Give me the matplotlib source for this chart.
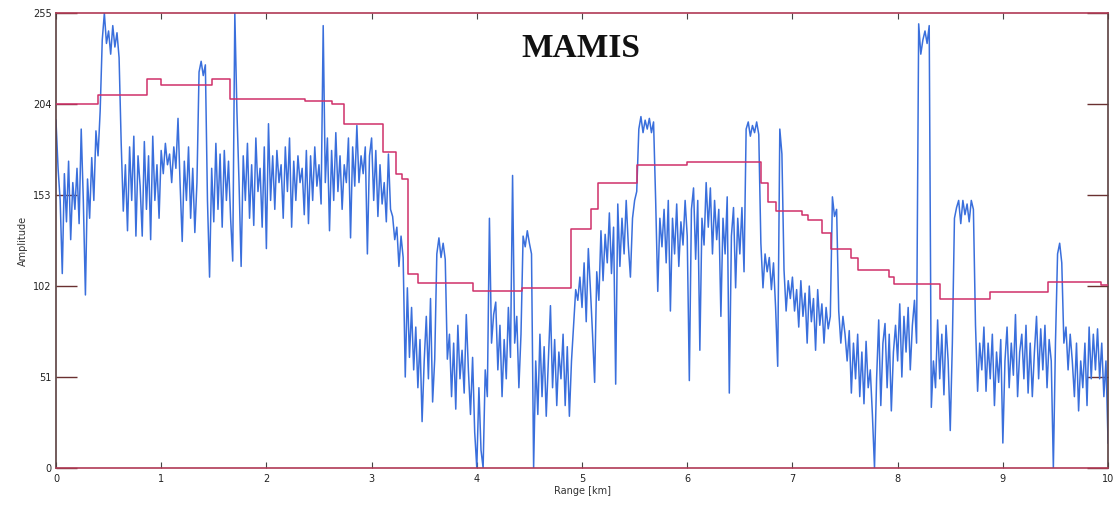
import numpy as np
import matplotlib
matplotlib.use("Agg")
import matplotlib.pyplot as plt

# Blue amplitude trace, sampled every 0.02 km from 0 to 10 km
amp_step_km = 0.02
amplitude = [
    195, 168, 150, 109, 165, 138, 172, 128, 160, 145,
    168, 137, 190, 150, 97, 162, 140, 174, 150, 189,
    175, 200, 240, 255, 238, 245, 232, 248, 236, 244,
    230, 182, 144, 170, 133, 180, 150, 186, 130, 175,
    158, 130, 183, 145, 175, 128, 186, 150, 170, 140,
    178, 165, 182, 170, 176, 160, 180, 168, 196, 159,
    127, 172, 150, 180, 140, 168, 132, 160, 222, 228,
    220, 226, 150, 107, 168, 138, 182, 145, 176, 135,
    178, 150, 172, 140, 116, 255, 200, 160, 113, 175,
    150, 182, 140, 170, 136, 185, 155, 168, 135, 180,
    123, 193, 150, 175, 145, 178, 160, 170, 140, 180,
    155, 185, 135, 172, 150, 175, 160, 168, 142, 178,
    137, 175, 150, 180, 158, 170, 148, 248, 160, 185,
    133, 178, 150, 188, 155, 175, 145, 170, 160, 185,
    129, 180, 158, 192, 160, 175, 165, 180, 120, 175,
    185, 150, 178, 141, 170, 148, 160, 138, 176, 145,
    141, 128, 135, 113, 130, 118, 51, 101, 62, 90,
    55, 79, 45, 72, 26, 60, 85, 50, 95, 37,
    61, 120, 129, 118, 126, 117, 61, 75, 40, 70,
    33, 80, 50, 66, 42, 86, 55, 30, 62, 20,
    0, 45, 10, 0, 55, 40, 140, 70, 86, 93,
    55, 80, 40, 72, 50, 90, 62, 164, 70, 85,
    45, 75, 130, 124, 133, 126, 120, 0, 60, 30,
    75, 40, 68, 29, 60, 91, 45, 72, 35, 65,
    50, 75, 35, 68, 29, 60, 80, 100, 94, 107,
    90, 115, 82, 123, 100, 75, 48, 110, 94, 133,
    105, 131, 115, 143, 109, 135, 47, 148, 113, 140,
    120, 150, 125, 107, 140, 150, 155, 190, 197, 188,
    195, 190, 196, 188, 194, 150, 99, 140, 124, 145,
    115, 150, 88, 140, 120, 148, 113, 138, 125, 150,
    130, 49, 145, 157, 117, 150, 66, 140, 125, 160,
    135, 157, 120, 150, 128, 145, 85, 140, 120, 152,
    42, 130, 146, 101, 140, 120, 146, 110, 190, 194,
    186, 192, 188, 194, 187, 126, 101, 120, 110, 118,
    100, 115, 90, 57, 190, 176, 111, 88, 105, 95,
    107, 88, 100, 79, 105, 85, 98, 70, 102, 82,
    95, 66, 100, 80, 92, 70, 90, 78, 85, 152,
    141, 145, 88, 70, 85, 75, 60, 77, 42, 70,
    50, 75, 40, 65, 36, 71, 45, 55, 30, 0,
    50, 83, 35, 70, 81, 45, 75, 32, 65, 80,
    60, 92, 51, 85, 65, 90, 55, 80, 94, 70,
    249, 232, 240, 245, 238, 248, 34, 60, 45, 83,
    50, 75, 41, 80, 60, 21, 70, 140, 146, 150,
    137, 150, 142, 148, 138, 150, 145, 80, 43, 70,
    55, 79, 43, 70, 50, 75, 35, 65, 48, 72,
    14, 60, 79, 45, 70, 52, 86, 40, 65, 75,
    50, 80, 42, 70, 40, 65, 85, 50, 78, 55,
    80, 45, 72, 60, 0, 70, 120, 126, 115, 70,
    79, 55, 75, 60, 40, 70, 32, 60, 45, 70,
    35, 79, 50, 75, 55, 78, 50, 70, 40, 60,
    14,
]

# Magenta threshold step line: start of each step (km) and its level
threshold_x = [0.00, 0.40, 0.87, 1.00, 1.48, 1.65, 2.37, 2.62, 2.74, 3.11,
               3.23, 3.29, 3.35, 3.44, 3.96, 4.43, 4.90, 5.09, 5.15, 5.52,
               6.00, 6.70, 6.77, 6.84, 7.09, 7.15, 7.28, 7.37, 7.56, 7.62,
               7.92, 7.97, 8.40, 8.88, 9.43, 9.93, 10.00]
threshold_y = [204, 209, 218, 214.5, 218, 206.7, 205.6, 204, 193, 177,
               165, 162, 109, 103.5, 99, 101, 134, 145, 160, 170,
               171.5, 160, 149, 144, 141.7, 139, 131.6, 122.6, 118, 111,
               107, 103, 95, 98.8, 104, 102.6, 102.6]

y_ticks = [0, 51, 102, 153, 204, 255]
x_ticks = [0, 1, 2, 3, 4, 5, 6, 7, 8, 9, 10]
title_text = "MAMIS"
x_label = "Range [km]"
y_label = "Amplitude"

fig = plt.figure(figsize=(11.17, 5.05), dpi=100)
ax = fig.add_axes([0.0501, 0.0733, 0.9419, 0.9007])

x_amp = np.arange(len(amplitude)) * amp_step_km
ax.plot(x_amp, amplitude, color="#3a6fdc", lw=1.1, zorder=2)
ax.step(threshold_x, threshold_y, where="post", color="#d0306a", lw=1.1, zorder=3)

ax.set_xlim(0, 10)
ax.set_ylim(0, 255)
ax.set_xticks(x_ticks)
ax.set_yticks(y_ticks)
ax.set_xticklabels([str(v) for v in x_ticks], fontsize=7, color="#222222")
ax.set_yticklabels([str(v) for v in y_ticks], fontsize=7, color="#222222")
ax.tick_params(axis="x", direction="in", length=4, width=0.8, top=True,
               bottom=True, color="#444444", pad=4)
ax.tick_params(axis="y", direction="in", length=15, width=1.0, left=True,
               right=True, color="#6a3030", pad=3)

for side in ["left", "right"]:
    ax.spines[side].set_color("#5a4040")
    ax.spines[side].set_linewidth(1.2)
for side in ["top", "bottom"]:
    ax.spines[side].set_color("#b03a55")
    ax.spines[side].set_linewidth(1.2)

ax.set_xlabel(x_label, fontsize=7, color="#333333", labelpad=2)
ax.set_ylabel(y_label, fontsize=7, color="#333333", labelpad=4)

ax.text(4.99, 235, title_text, ha="center", va="center", fontsize=24,
        fontweight="bold", family="Liberation Serif", color="#111111")

fig.savefig("out.png", dpi=100)
